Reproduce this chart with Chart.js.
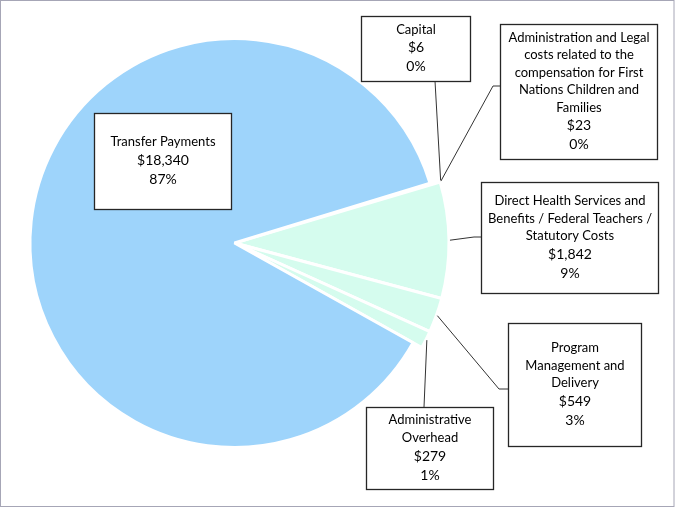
<!DOCTYPE html>
<html><head><meta charset="utf-8">
<script src="https://cdn.jsdelivr.net/npm/chart.js@4/dist/chart.umd.min.js"></script>
<style>html,body{margin:0;padding:0;background:#fff}#wrap{position:relative;width:675px;height:508px}</style>
</head><body><div id="wrap"><canvas id="c" width="675" height="508"></canvas></div>
<script>
// ---- data ----
const categories = [
  ["Capital"],
  ["Administration and Legal","costs related to the","compensation for First","Nations Children and","Families"],
  ["Direct Health Services and","Benefits / Federal Teachers /","Statutory Costs"],
  ["Program","Management and","Delivery"],
  ["Administrative","Overhead"],
  ["Transfer Payments"]
];
const values = [6, 23, 1842, 549, 279, 18340];
const valueLabels = ["$6", "$23", "$1,842", "$549", "$279", "$18,340"];
const percentLabels = ["0%", "0%", "9%", "3%", "1%", "87%"];
const sliceColors = ["#d5fcee", "#d5fcee", "#d5fcee", "#d5fcee", "#d5fcee", "#9ed4fb"];

// ---- label layout (boxes and leader bends) ----
const boxes = [
  {x:361, y:16,  w:109, h:65,  from:[435,81],  bend:null},
  {x:500, y:24,  w:157, h:135, from:[500,86],  bend:[493,86]},
  {x:481, y:182, w:177, h:111, from:[481,237], bend:[474,237]},
  {x:508, y:323, w:133, h:123, from:[508,389], bend:[499,389]},
  {x:366, y:407, w:127, h:82,  from:[424,407], bend:null},
  {x:94,  y:113, w:137, h:96,  from:null,      bend:null}
];

const FONT = "Lato, 'Open Sans', sans-serif";

const mintRadius = {
  id: 'mintRadius',
  afterDatasetsUpdate(chart) {
    const meta = chart.getDatasetMeta(0);
    const base = meta.data[5].outerRadius;
    meta.data.forEach((a, i) => { if (i < 5) a.outerRadius = base + 10; });
  }
};

const labelBoxes = {
  id: 'labelBoxes',
  afterDraw(chart) {
    const ctx = chart.ctx;
    const meta = chart.getDatasetMeta(0);
    ctx.save();
    // frame
    ctx.strokeStyle = '#a6a6b6';
    ctx.lineWidth = 1;
    ctx.strokeRect(0.5, 0.5, 673.5, 506);
    meta.data.forEach((arc, i) => {
      const b = boxes[i];
      // leader
      if (b.from) {
        const mid = (arc.startAngle + arc.endAngle) / 2;
        const r = arc.outerRadius + 1;
        const px = arc.x + Math.cos(mid) * r;
        const py = arc.y + Math.sin(mid) * r;
        ctx.strokeStyle = '#333';
        ctx.lineWidth = 1;
        ctx.beginPath();
        ctx.moveTo(b.from[0], b.from[1]);
        if (b.bend) ctx.lineTo(b.bend[0], b.bend[1]);
        ctx.lineTo(px, py);
        ctx.stroke();
      }
      // box
      ctx.fillStyle = '#fff';
      ctx.fillRect(b.x, b.y, b.w, b.h);
      ctx.strokeStyle = '#262626';
      ctx.lineWidth = 1.3;
      ctx.strokeRect(b.x + 0.5, b.y + 0.5, b.w, b.h);
      // text
      const names = categories[i];
      const lines = names.map(t => ({t, size:13, lh:17.5}))
        .concat([{t:valueLabels[i], size:14, lh:19}, {t:percentLabels[i], size:14, lh:19}]);
      const total = lines.reduce((s, l) => s + l.lh, 0);
      let y = b.y + b.h / 2 - total / 2;
      const cx = b.x + b.w / 2 + 0.5;
      ctx.fillStyle = '#000';
      ctx.textAlign = 'center';
      ctx.textBaseline = 'middle';
      lines.forEach(l => {
        ctx.font = l.size + 'px ' + FONT;
        ctx.fillText(l.t, cx, y + l.lh / 2);
        y += l.lh;
      });
    });
    ctx.restore();
  }
};

new Chart(document.getElementById('c'), {
  type: 'pie',
  data: {
    labels: categories,
    datasets: [{
      data: values,
      backgroundColor: sliceColors,
      borderColor: '#ffffff',
      borderWidth: 3,
      radius: 204.5
    }]
  },
  options: {
    responsive: false,
    animation: false,
    devicePixelRatio: 1,
    rotation: 73,
    layout: { padding: { left: 20, right: 226, top: 30, bottom: 52 } },
    plugins: { legend: { display: false }, tooltip: { enabled: false } }
  },
  plugins: [mintRadius, labelBoxes]
});
</script>
</body></html>
